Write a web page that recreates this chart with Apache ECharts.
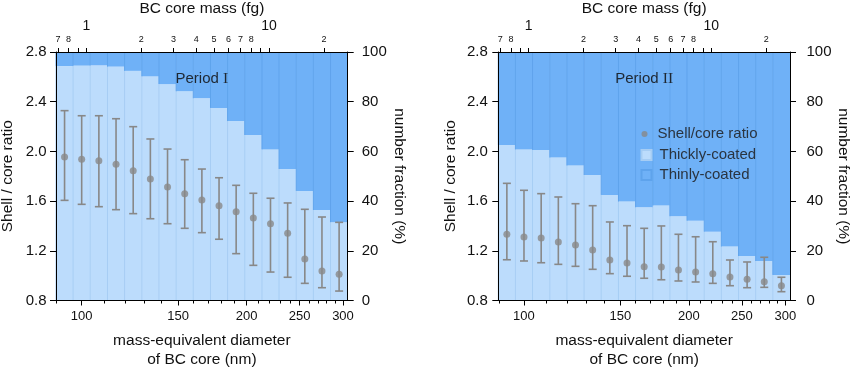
<!DOCTYPE html>
<html><head><meta charset="utf-8">
<script src="https://cdn.jsdelivr.net/npm/echarts@6/dist/echarts.min.js"></script>
<style>html,body{margin:0;padding:0;background:#fff}#c{width:850px;height:368px}</style>
</head><body><div id="c"></div>
<script>
// ---- data ----
const binEdges = [89.8, 96.5, 103.7, 111.5, 119.8, 128.8, 138.4, 148.8, 159.9, 171.9, 184.7, 198.5, 213.4, 229.3, 246.5, 264.9, 284.7, 306.0];

const thickP1 = [94.3, 94.5, 94.6, 94.1, 92.4, 90.2, 87.1, 84.2, 81.4, 77.5, 72.2, 66.6, 60.8, 52.9, 44.1, 36.4, 31.5];
const ratioP1 = [1.955, 1.936, 1.925, 1.896, 1.845, 1.778, 1.713, 1.660, 1.609, 1.563, 1.515, 1.464, 1.418, 1.341, 1.134, 1.037, 1.011];
const highP1  = [2.328, 2.287, 2.287, 2.263, 2.199, 2.100, 2.019, 1.933, 1.858, 1.788, 1.727, 1.663, 1.623, 1.585, 1.534, 1.472, 1.429];
const lowP1   = [1.606, 1.574, 1.555, 1.531, 1.499, 1.458, 1.418, 1.381, 1.346, 1.293, 1.177, 1.083, 1.029, 0.987, 0.938, 0.903, 0.876];

const thickP2 = [62.6, 60.8, 60.6, 57.5, 54.3, 50.5, 42.5, 39.8, 37.5, 38.2, 33.9, 32.1, 27.7, 21.7, 17.9, 15.9, 10.3];
const ratioP2 = [1.333, 1.311, 1.303, 1.271, 1.247, 1.206, 1.126, 1.102, 1.072, 1.070, 1.045, 1.029, 1.016, 0.989, 0.971, 0.951, 0.919];
const highP2  = [1.743, 1.687, 1.660, 1.633, 1.579, 1.563, 1.432, 1.402, 1.381, 1.400, 1.333, 1.313, 1.273, 1.126, 1.110, 1.148, 0.987];
const lowP2   = [1.128, 1.118, 1.104, 1.091, 1.075, 1.051, 1.016, 0.995, 0.979, 0.967, 0.957, 0.949, 0.938, 0.919, 0.903, 0.906, 0.871];

const panelTitles = ['I', 'II'];
const xMajorTicks = [100, 150, 200, 250, 300];
const xMinorTicks = [90, 110, 120, 130, 140, 160, 170, 180, 190, 210, 220, 230, 240, 260, 270, 280, 290];
const massTicks = [0.7, 0.8, 0.9, 1, 2, 3, 4, 5, 6, 7, 8, 9, 10, 20];
const massSmallLabels = [0.7, 0.8, 2, 3, 4, 5, 6, 7, 8, 20];
const massBigLabels = [1, 10];
const ratioMin = 0.8, ratioMax = 2.8, ratioStep = 0.4;
const fracMin = 0, fracMax = 100, fracStep = 20;
const BC_DENSITY = 1.8; // g/cm3

// ---- styles ----
const FONT = 'Liberation Sans, Arial, Helvetica, sans-serif';
const C_THICK = '#bcdcfc', C_THICK_EDGE = '#a6cdf4';
const C_THIN = '#6fb1f7', C_THIN_EDGE = '#5ea3ec';
const C_PT = '#888888';
const TXT = '#111111';

const massOf = d => BC_DENSITY * Math.PI / 6 * Math.pow(d, 3) * 1e-6; // fg, d in nm
const dMin = binEdges[0], dMax = binEdges[binEdges.length - 1];
const mMin = massOf(dMin), mMax = massOf(dMax);
const centers = binEdges.slice(0, -1).map((e, i) => Math.sqrt(e * binEdges[i + 1]));

const panels = [
  {thick: thickP1, ratio: ratioP1, high: highP1, low: lowP1, left: 56, rMargin: 14, lMargin: 9.5},
  {thick: thickP2, ratio: ratioP2, high: highP2, low: lowP2, left: 498.3, rMargin: 16.5, lMargin: 10.5}
];
const GW = 291.7, GT = 52, GH = 248.5;

function areaRender(kind) {
  return function (params, api) {
    const x0 = api.value(0), x1 = api.value(1), f = api.value(2);
    const yLo = kind === 'thick' ? fracMin : f;
    const yHi = kind === 'thick' ? f : fracMax;
    const p0 = api.coord([x0, yHi]), p1 = api.coord([x1, yLo]);
    return {type: 'group', children: [
      {type: 'rect', shape: {x: p0[0], y: p0[1], width: p1[0] - p0[0], height: p1[1] - p0[1]},
        style: {fill: kind === 'thick' ? C_THICK : C_THIN}},
      {type: 'line', shape: {x1: p0[0], y1: p0[1], x2: p0[0], y2: p1[1]},
        style: {stroke: kind === 'thick' ? C_THICK_EDGE : C_THIN_EDGE, lineWidth: 1}}
    ]};
  };
}
function errRender(params, api) {
  const x = api.value(0), lo = api.value(1), hi = api.value(2);
  const pl = api.coord([x, lo]), ph = api.coord([x, hi]);
  const w = 4, st = {stroke: C_PT, lineWidth: 1.6};
  return {type: 'group', children: [
    {type: 'line', shape: {x1: pl[0], y1: pl[1], x2: ph[0], y2: ph[1]}, style: st},
    {type: 'line', shape: {x1: pl[0] - w, y1: pl[1], x2: pl[0] + w, y2: pl[1]}, style: st},
    {type: 'line', shape: {x1: ph[0] - w, y1: ph[1], x2: ph[0] + w, y2: ph[1]}, style: st}
  ]};
}

const grid = [], xAxis = [], yAxis = [], series = [], graphic = [];
const blackLine = {show: true, lineStyle: {color: '#000', width: 1}};
panels.forEach((p, gi) => {
  grid.push({left: p.left, top: GT, width: GW, height: GH, containLabel: false, outerBoundsMode: 'none'});
  // bottom major
  xAxis.push({gridIndex: gi, type: 'log', logBase: 10, min: dMin, max: dMax, position: 'bottom', z: 10,
    axisLine: blackLine, splitLine: {show: false},
    axisTick: {show: true, length: 5, customValues: xMajorTicks, lineStyle: {color: '#000'}},
    axisLabel: {customValues: xMajorTicks, fontSize: 13, margin: 9.5, color: TXT, fontFamily: FONT,
      formatter: v => String(Math.round(v))},
    name: 'mass-equivalent diameter\nof BC core (nm)', nameLocation: 'middle', nameGap: 31,
    nameTextStyle: {fontSize: 15.5, lineHeight: 18.5, color: TXT, fontFamily: FONT}});
  // bottom minor ticks
  xAxis.push({gridIndex: gi, type: 'log', logBase: 10, min: dMin, max: dMax, position: 'bottom', z: 10,
    axisLine: {show: false}, splitLine: {show: false},
    axisTick: {show: true, length: 3, customValues: xMinorTicks, lineStyle: {color: '#000'}},
    axisLabel: {show: false}});
  // top mass axis (ticks + small labels)
  xAxis.push({gridIndex: gi, type: 'log', logBase: 10, min: mMin, max: mMax, position: 'top', z: 10,
    axisLine: blackLine, splitLine: {show: false},
    axisTick: {show: true, length: 4, customValues: massTicks, lineStyle: {color: '#000'}},
    axisLabel: {customValues: massSmallLabels, fontSize: 9, margin: 8, color: TXT, fontFamily: FONT,
      formatter: v => String(Math.round(v < 1 ? v * 10 : (v >= 10 ? v / 10 : v)))},
    name: 'BC core mass (fg)', nameLocation: 'middle', nameGap: 35,
    nameTextStyle: {fontSize: 15.5, color: TXT, fontFamily: FONT}});
  // top mass axis (big decade labels)
  xAxis.push({gridIndex: gi, type: 'log', logBase: 10, min: mMin, max: mMax, position: 'top', z: 10,
    axisLine: {show: false}, axisTick: {show: false}, splitLine: {show: false},
    axisLabel: {customValues: massBigLabels, fontSize: 14, margin: 19, color: TXT, fontFamily: FONT,
      formatter: v => String(Math.round(v))}});
  yAxis.push({gridIndex: gi, type: 'value', min: ratioMin, max: ratioMax, interval: ratioStep, position: 'left', z: 10,
    axisLine: blackLine, splitLine: {show: false},
    axisTick: {show: true, length: 6, lineStyle: {color: '#000'}},
    axisLabel: {fontSize: 15, margin: p.lMargin, color: TXT, fontFamily: FONT, formatter: v => v.toFixed(1)},
    name: 'Shell / core ratio', nameLocation: 'middle', nameGap: 40,
    nameTextStyle: {fontSize: 15.5, color: TXT, fontFamily: FONT}});
  yAxis.push({gridIndex: gi, type: 'value', min: fracMin, max: fracMax, interval: fracStep, position: 'right', z: 10,
    axisLine: blackLine, splitLine: {show: false},
    axisTick: {show: true, length: 6, lineStyle: {color: '#000'}},
    axisLabel: {fontSize: 15, margin: p.rMargin, color: TXT, fontFamily: FONT},
    name: 'number fraction (%)', nameLocation: 'middle', nameGap: 44, nameRotate: -90,
    nameTextStyle: {fontSize: 15.5, color: TXT, fontFamily: FONT}});

  const xi = gi * 4, yl = gi * 2, yr = gi * 2 + 1;
  const areaData = p.thick.map((f, i) => [binEdges[i], binEdges[i + 1], f]);
  series.push({type: 'custom', name: 'Thickly-coated', xAxisIndex: xi, yAxisIndex: yr, z: 1,
    encode: {x: [0, 1], y: 2}, itemStyle: {color: C_THICK, borderColor: C_THICK_EDGE, borderWidth: 0.6},
    renderItem: areaRender('thick'), data: areaData, silent: true});
  series.push({type: 'custom', name: 'Thinly-coated', xAxisIndex: xi, yAxisIndex: yr, z: 1,
    encode: {x: [0, 1], y: 2}, itemStyle: {color: C_THIN, borderColor: C_THIN_EDGE, borderWidth: 0.6},
    renderItem: areaRender('thin'), data: areaData, silent: true});
  series.push({type: 'custom', name: 'err' + gi, xAxisIndex: xi, yAxisIndex: yl, z: 3,
    encode: {x: 0, y: [1, 2]}, renderItem: errRender,
    data: centers.map((c, i) => [c, p.low[i], p.high[i]]), silent: true});
  series.push({type: 'scatter', name: 'Shell/core ratio', xAxisIndex: xi, yAxisIndex: yl, z: 4,
    symbol: 'circle', symbolSize: 7, itemStyle: {color: C_PT},
    data: centers.map((c, i) => [c, p.ratio[i]]), silent: true});

  graphic.push({type: 'text', x: p.left + GW / 2, y: 79, z: 20, style: {
    text: 'Period {r|' + panelTitles[gi] + '}', align: 'center', verticalAlign: 'middle',
    fontSize: 15, fontFamily: FONT, fill: '#1e2833',
    rich: {r: {fontSize: 15.5, fontFamily: 'Liberation Serif, Times New Roman, serif', fill: '#1e2833'}}}});
});

const chart = echarts.init(document.getElementById('c'), null, {renderer: 'canvas'});
chart.setOption({
  animation: false,
  backgroundColor: '#fff',
  grid, xAxis, yAxis, series, graphic,
  legend: [
    {data: [{name: 'Shell/core ratio', icon: 'circle'}], left: 641.5, top: 126.5, orient: 'vertical', padding: 0,
      itemWidth: 10, itemHeight: 6, selectedMode: false,
      textStyle: {fontSize: 15, color: '#2a3440', fontFamily: FONT, padding: [0, 0, 0, 3]}},
    {data: [{name: 'Thickly-coated', icon: 'rect'}, {name: 'Thinly-coated', icon: 'rect'}],
      left: 640.5, top: 147.5, orient: 'vertical', itemWidth: 10, itemHeight: 10, itemGap: 5, padding: 0, selectedMode: false,
      textStyle: {fontSize: 15, lineHeight: 15, color: '#2a3440', fontFamily: FONT, padding: [0, 0, 0, 3]}}
  ]
});
</script></body></html>
